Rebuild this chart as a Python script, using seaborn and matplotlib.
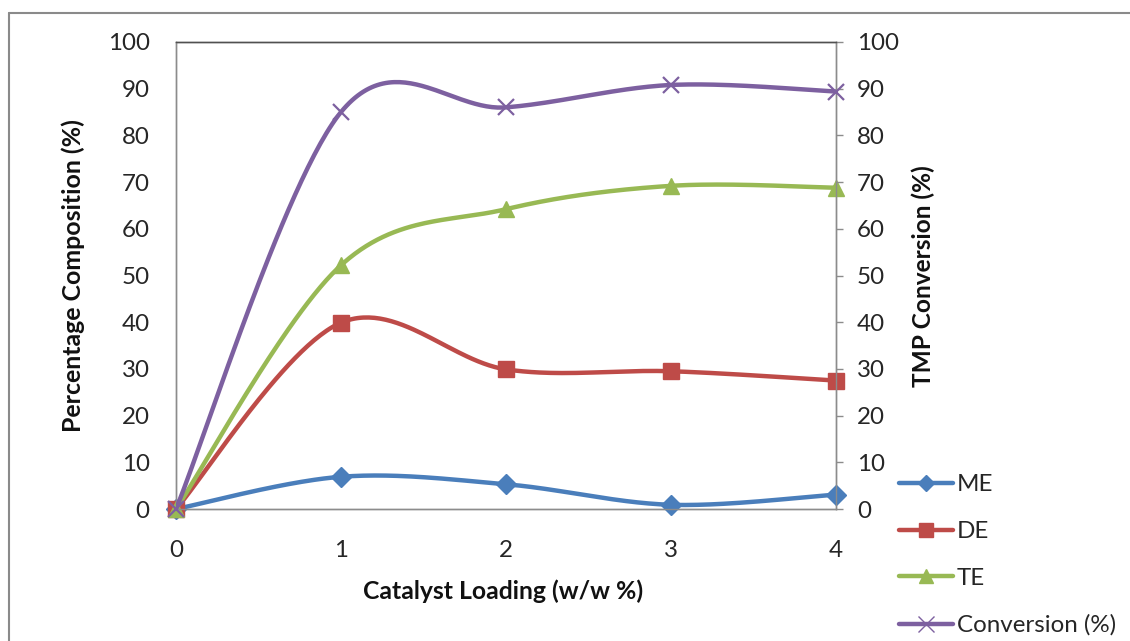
import numpy as np
import pandas as pd
import matplotlib
matplotlib.use("Agg")
import matplotlib.pyplot as plt
from matplotlib.lines import Line2D
import seaborn as sns

# Catalyst loading and product composition / conversion values
loading = [0, 1, 2, 3, 4]
me = [0, 6.9, 5.3, 0.9, 3.1]
de = [0, 39.9, 29.9, 29.5, 27.5]
te = [0, 52.2, 64.2, 69.2, 68.8]
conversion = [0, 85.0, 86.0, 90.8, 89.4]

series_names = ["ME", "DE", "TE", "Conversion (%)"]
colors = ["#4A7EBB", "#BE4B48", "#98B954", "#7D60A0"]

sns.set_theme(style="white")
plt.rcParams["font.family"] = ["Lato", "DejaVu Sans"]


def smooth_curve(xs, ys, n=60):
    """Catmull-Rom style Bezier smoothing through every point."""
    pts = np.column_stack([xs, ys]).astype(float)
    padded = np.vstack([pts[0], pts, pts[-1]])
    t = np.linspace(0, 1, n)[:, None]
    out = []
    for i in range(len(pts) - 1):
        p0, p1, p2, p3 = padded[i:i + 4]
        c1 = p1 + (p2 - p0) / 6.0
        c2 = p2 - (p3 - p1) / 6.0
        seg = ((1 - t) ** 3) * p1 + 3 * ((1 - t) ** 2) * t * c1 \
            + 3 * (1 - t) * t ** 2 * c2 + t ** 3 * p2
        out.append(seg if i == 0 else seg[1:])
    curve = np.vstack(out)
    return pd.DataFrame({"x": curve[:, 0], "y": curve[:, 1]})


W, H = 1130, 641
DPI = 100
fig = plt.figure(figsize=(W / DPI, H / DPI), dpi=DPI)
renderer = fig.canvas.get_renderer()


def fit_size(text, width_px, weight="normal"):
    """Font size that makes `text` span `width_px` pixels."""
    probe = fig.text(0, 0, text, fontsize=10, fontweight=weight)
    w = probe.get_window_extent(renderer=renderer).width
    probe.remove()
    return 10 * width_px / w


tick_fs = fit_size("Conversion (%)", 160)
xlab_fs = fit_size("Catalyst Loading (w/w %)", 280, "bold")
ylab_fs = fit_size("Percentage Composition (%)", 313, "bold")
y2lab_fs = fit_size("TMP Conversion (%)", 222, "bold")

ax = fig.add_axes([176 / W, 1 - 509 / H, (836 - 176) / W, (509 - 42) / H])
ax2 = ax.twinx()

markers = ["D", "s", "^", "x"]
msizes = [10, 11.5, 11.5, 12]
values = [me, de, te, conversion]

for i, (vals, col, mk, ms) in enumerate(zip(values, colors, markers, msizes)):
    target = ax2 if i == 3 else ax
    curve = smooth_curve(loading, vals)
    sns.lineplot(data=curve, x="x", y="y", ax=target, color=col, lw=3.2,
                 sort=False, estimator=None, zorder=2 + i)
    pts = pd.DataFrame({"x": loading, "y": vals})
    if mk == "x":
        target.plot(pts["x"], pts["y"], ls="none", marker=mk, ms=ms,
                    mew=1.6, color=col, zorder=3 + i, clip_on=False)
    else:
        target.plot(pts["x"], pts["y"], ls="none", marker=mk, ms=ms,
                    mec=col, mfc=col, color=col, zorder=3 + i, clip_on=False)

for a in (ax, ax2):
    a.set_xlim(0, 4)
    a.set_ylim(0, 100)
    a.set_yticks(np.arange(0, 101, 10))
    a.set_xlabel("")
    a.set_ylabel("")
    for s in a.spines.values():
        s.set_color("#8C8C8C")
        s.set_linewidth(1.0)
    a.spines["top"].set_color("#505050")

ax.set_xticks(loading)
ax.tick_params(axis="x", length=0, pad=22, labelsize=tick_fs, labelcolor="#262626")
ax.tick_params(axis="y", length=0, pad=19, labelsize=tick_fs, labelcolor="#262626")
ax2.tick_params(axis="y", right=True, length=5, width=1, color="#8C8C8C",
                direction="out", pad=10, labelsize=tick_fs, labelcolor="#262626")

# axis titles
fig.text(73 / W, 1 - 276 / H, "Percentage Composition (%)", rotation=90,
         ha="center", va="center", fontsize=ylab_fs, fontweight="bold", color="#111111")
fig.text(923 / W, 1 - 276 / H, "TMP Conversion (%)", rotation=90,
         ha="center", va="center", fontsize=y2lab_fs, fontweight="bold", color="#111111")
fig.text(503 / W, 1 - 591 / H, "Catalyst Loading (w/w %)",
         ha="center", va="center", fontsize=xlab_fs, fontweight="bold", color="#111111")

# legend, laid out in pixel terms converted to font units
fs_px = tick_fs * DPI / 72
row_h = 0.89 * fs_px
handles = []
for col, mk, ms in zip(colors, markers, msizes):
    if mk == "x":
        handles.append(Line2D([], [], color=col, lw=3.2, marker=mk, ms=ms, mew=1.0))
    else:
        handles.append(Line2D([], [], color=col, lw=3.2, marker=mk, ms=ms * 0.85,
                              mfc=col, mec=col))
fig.legend(handles, series_names, loc="upper left",
           bbox_to_anchor=(899 / W, 1 - (485 - row_h / 2) / H), frameon=False,
           fontsize=tick_fs, handlelength=54 / fs_px, handletextpad=4 / fs_px,
           labelspacing=(47.3 - row_h) / fs_px, borderpad=0, borderaxespad=0)

# outer border of the chart area
fig.add_artist(Line2D([9 / W, 1.0], [1 - 13 / H, 1 - 13 / H], color="#8A8A8A", lw=1.5))
fig.add_artist(Line2D([9 / W, 9 / W], [1 - 13 / H, 0.0], color="#8A8A8A", lw=1.5))

fig.savefig("out.png", dpi=DPI)
